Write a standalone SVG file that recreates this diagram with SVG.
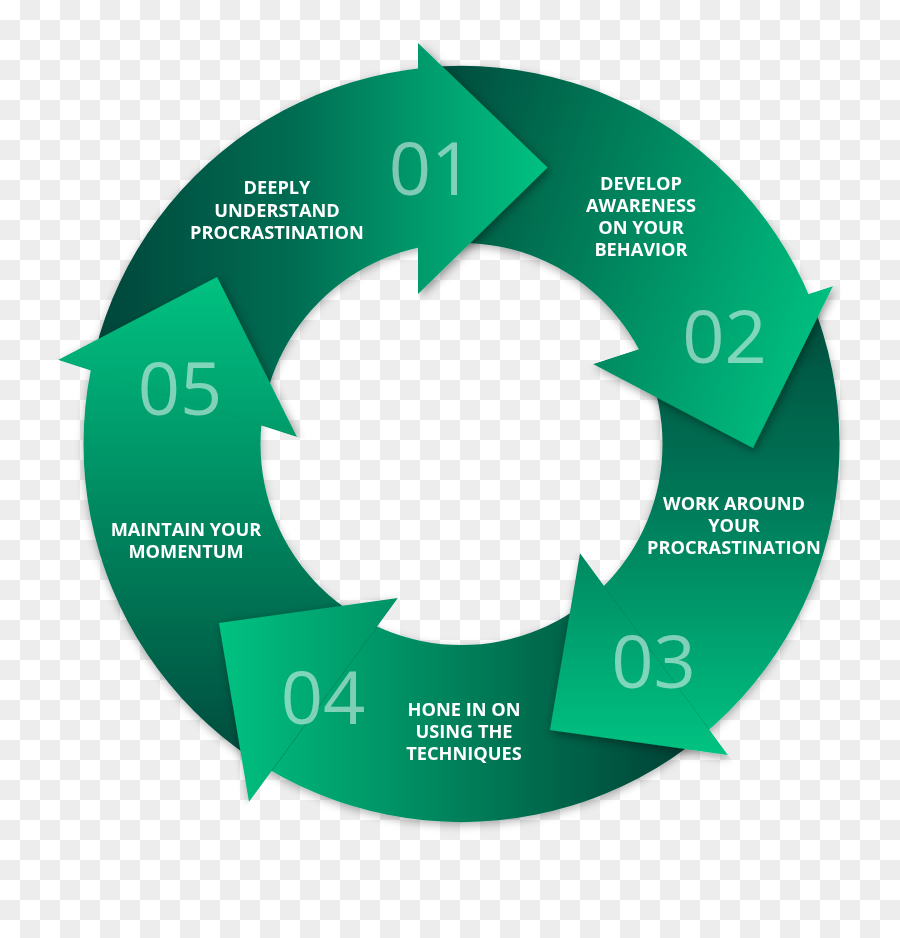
<svg xmlns="http://www.w3.org/2000/svg" xmlns:xlink="http://www.w3.org/1999/xlink" width="900" height="938" viewBox="0 0 900 938">
<style>
.num{font-family:"Open Sans","Liberation Sans",sans-serif;font-size:74px;fill:#ffffff;fill-opacity:0.5;text-anchor:middle}
.lbl{font-family:"Open Sans","Liberation Sans",sans-serif;font-size:18.2px;font-weight:700;fill:#ffffff;text-anchor:middle}
</style>
<defs>
<pattern id="checker" width="40" height="40" patternUnits="userSpaceOnUse">
<rect width="40" height="40" fill="#ffffff"/>
<rect x="20" y="0" width="20" height="20" fill="#ededed"/>
<rect x="0" y="20" width="20" height="20" fill="#ededed"/>
</pattern>
<path id="ring" fill-rule="evenodd" d="M83.5,444 a378,378 0 1,0 756,0 a378,378 0 1,0 -756,0 Z M260.5,444 a201,201 0 1,0 402,0 a201,201 0 1,0 -402,0 Z"/>
<linearGradient id="g1" gradientUnits="userSpaceOnUse" x1="95" y1="0" x2="548" y2="0">
<stop offset="0" stop-color="#00463a"/><stop offset="0.45" stop-color="#006e53"/><stop offset="0.72" stop-color="#009a6c"/><stop offset="1" stop-color="#00c281"/>
</linearGradient>
<linearGradient id="g2" gradientUnits="userSpaceOnUse" x1="440" y1="130" x2="840" y2="260">
<stop offset="0" stop-color="#00503f"/><stop offset="1" stop-color="#00be7f"/>
</linearGradient>
<linearGradient id="g3" gradientUnits="userSpaceOnUse" x1="0" y1="330" x2="0" y2="750">
<stop offset="0" stop-color="#00523f"/><stop offset="0.35" stop-color="#007255"/><stop offset="1" stop-color="#00c281"/>
</linearGradient>
<linearGradient id="g4" gradientUnits="userSpaceOnUse" x1="700" y1="0" x2="220" y2="0">
<stop offset="0" stop-color="#003e33"/><stop offset="1" stop-color="#00c281"/>
</linearGradient>
<linearGradient id="g5" gradientUnits="userSpaceOnUse" x1="0" y1="775" x2="0" y2="277">
<stop offset="0" stop-color="#00473a"/><stop offset="1" stop-color="#00c281"/>
</linearGradient>
<clipPath id="c1"><polygon points="420,477 -248,261 -248,-224 420,-224"/></clipPath>
<clipPath id="c2"><polygon points="418,423 418,-300 1300,-300 1300,136"/></clipPath>
<clipPath id="c3"><polygon points="469,405 1327,126 1327,1131 1001,1131"/></clipPath>
<clipPath id="c4"><polygon points="505,451 1037,1177 -27,1177"/></clipPath>
<clipPath id="c5"><polygon points="474,494 -57,1221 -382,1221 -382,216"/></clipPath>
<clipPath id="h1"><polygon points="418,-831.5 418,1168.5 1418,1168.5 1418,-831.5"/></clipPath>
<clipPath id="h2"><polygon points="-238,634 1664,16 1973,967 71,1585"/></clipPath>
<clipPath id="h3"><polygon points="63,-153 1245,1461 438,2051 -744,437"/></clipPath>
<clipPath id="h4"><polygon points="913.5,-108 -266.5,1508 -1071.5,915 108.5,-701"/></clipPath>
<clipPath id="h5"><polygon points="1129.5,705.5 -774.5,91.5 -465.5,-859.5 1438.5,-245.5"/></clipPath>
<filter id="rs" x="-10%" y="-10%" width="120%" height="120%">
<feDropShadow dx="0" dy="3" stdDeviation="4" flood-color="#000000" flood-opacity="0.3"/>
</filter>
<filter id="hs" x="-30%" y="-30%" width="160%" height="160%">
<feDropShadow dx="2" dy="3" stdDeviation="5" flood-color="#000000" flood-opacity="0.4"/>
</filter>
</defs>
<rect id="background" width="900" height="938" fill="url(#checker)"/>
<g id="ring-bodies" filter="url(#rs)">
<use xlink:href="#ring" href="#ring" fill="url(#g1)" clip-path="url(#c1)"/>
<use xlink:href="#ring" href="#ring" fill="url(#g2)" clip-path="url(#c2)"/>
<use xlink:href="#ring" href="#ring" fill="url(#g3)" clip-path="url(#c3)"/>
<use xlink:href="#ring" href="#ring" fill="url(#g4)" clip-path="url(#c4)"/>
<use xlink:href="#ring" href="#ring" fill="url(#g5)" clip-path="url(#c5)"/>
</g>
<g id="connectors"></g>
<g id="step1">
<g clip-path="url(#h1)"><polygon points="418,43 547.5,167.5 418,294" fill="url(#g1)" filter="url(#hs)"/></g>
<text class="num" x="431" y="195">01</text>
<text class="lbl" x="277"><tspan x="277" y="194">DEEPLY</tspan><tspan x="277" y="216.5">UNDERSTAND</tspan><tspan x="277" y="239">PROCRASTINATION</tspan></text>
</g>
<g id="step2">
<g clip-path="url(#h2)"><polygon points="593,364 833,286 753,448" fill="url(#g2)" filter="url(#hs)"/></g>
<text class="num" x="724.5" y="363">02</text>
<text class="lbl" x="641"><tspan x="641" y="190">DEVELOP</tspan><tspan x="641" y="212">AWARENESS</tspan><tspan x="641" y="234">ON YOUR</tspan><tspan x="641" y="256">BEHAVIOR</tspan></text>
</g>
<g id="step3">
<g clip-path="url(#h3)"><polygon points="580,553 728,755 550,730" fill="url(#g3)" filter="url(#hs)"/></g>
<text class="num" x="653.5" y="688">03</text>
<text class="lbl" x="734"><tspan x="734" y="510">WORK AROUND</tspan><tspan x="734" y="532">YOUR</tspan><tspan x="734" y="553.5">PROCRASTINATION</tspan></text>
</g>
<g id="step4">
<g clip-path="url(#h4)"><polygon points="398,598 249,802 219,623" fill="url(#g4)" filter="url(#hs)"/></g>
<text class="num" x="323" y="724">04</text>
<text class="lbl" x="464"><tspan x="464" y="716">HONE IN ON</tspan><tspan x="464" y="738">USING THE</tspan><tspan x="464" y="760">TECHNIQUES</tspan></text>
</g>
<g id="step5">
<g clip-path="url(#h5)"><polygon points="297,437 58,360 217,277" fill="url(#g5)" filter="url(#hs)"/></g>
<text class="num" x="180" y="415">05</text>
<text class="lbl" x="186"><tspan x="186" y="536">MAINTAIN YOUR</tspan><tspan x="186" y="558">MOMENTUM</tspan></text>
</g>
</svg>
